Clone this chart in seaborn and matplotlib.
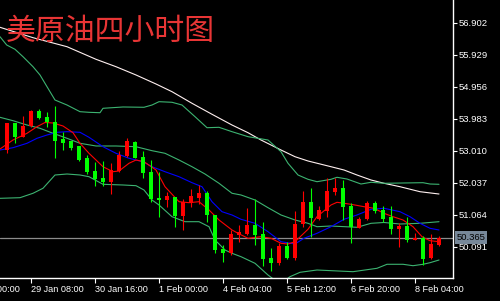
import matplotlib
matplotlib.use("Agg")
import matplotlib.pyplot as plt
import seaborn as sns
import pandas as pd

sns.set_theme(style="dark")
plt.rcParams['font.family'] = ['Liberation Sans', 'DejaVu Sans']

# ---------------- data ----------------
title = "美原油四小时图"

opens = [53.03, 53.85, 53.43, 53.76, 54.22, 54.03, 53.88, 53.36, 53.29, 53.14,
         52.78, 52.40, 52.19, 52.06, 52.39, 52.85, 53.27, 52.83, 52.37, 51.58,
         51.51, 51.61, 51.02, 51.43, 51.58, 51.71, 51.05, 50.03, 49.90, 50.46,
         50.48, 50.75, 50.48, 49.76, 49.58, 50.11, 49.74, 50.79, 51.46, 50.93,
         51.18, 51.76, 51.88, 51.34, 50.67, 50.93, 51.43, 51.21, 51.00, 50.63,
         50.72, 50.30, 50.35, 49.76, 50.14]
highs = [53.85, 53.85, 54.07, 54.25, 54.28, 54.19, 54.37, 53.59, 53.30, 53.16,
         52.88, 52.68, 52.71, 52.64, 53.00, 53.39, 53.30, 53.00, 52.73, 52.36,
         51.76, 51.61, 51.53, 51.86, 51.97, 51.78, 51.05, 50.14, 50.60, 50.75,
         51.27, 51.54, 50.83, 50.05, 50.19, 50.24, 51.19, 51.79, 51.88, 51.34,
         52.17, 52.19, 52.12, 51.41, 51.00, 51.48, 51.47, 51.34, 51.33, 50.80,
         51.00, 50.50, 50.42, 50.48, 50.41]
lows = [52.94, 53.24, 53.43, 53.73, 53.96, 53.73, 52.79, 53.03, 53.03, 52.71,
        52.30, 51.95, 51.95, 51.68, 52.37, 52.83, 52.79, 52.17, 51.45, 51.00,
        51.31, 50.69, 50.59, 51.31, 51.39, 50.83, 49.90, 49.64, 49.84, 50.23,
        50.45, 50.14, 49.49, 49.34, 49.53, 49.71, 49.69, 50.69, 50.40, 50.90,
        51.00, 51.66, 50.90, 50.21, 50.65, 50.90, 51.12, 50.84, 50.49, 50.09,
        50.24, 50.30, 49.54, 49.71, 50.11]
closes = [53.84, 53.43, 53.76, 54.22, 54.00, 53.88, 53.31, 53.23, 53.09, 52.73,
          52.37, 52.14, 52.06, 52.42, 52.88, 53.31, 52.80, 52.34, 51.54, 51.51,
          51.64, 51.02, 51.46, 51.63, 51.73, 51.04, 49.99, 49.89, 50.48, 50.53,
          50.75, 50.45, 49.72, 49.58, 50.11, 49.76, 50.79, 51.46, 50.95, 51.21,
          51.78, 51.88, 51.31, 50.70, 50.93, 51.43, 51.19, 50.93, 50.63, 50.72,
          50.30, 50.37, 49.72, 50.17, 50.365]

last_price = 50.365

x_tick_pos = [-5, 3, 11, 19, 27, 35, 43, 51]
x_tick_labels = ["28 Jan 00:00", "29 Jan 08:00", "30 Jan 16:00", "1 Feb 00:00",
                 "4 Feb 04:00", "5 Feb 12:00", "6 Feb 20:00", "8 Feb 04:00"]
y_ticks = [56.902, 55.929, 54.956, 53.983, 53.010, 52.037, 51.064, 50.091]

# long moving average (white)
ma_long_x = [-0.875, 3.25, 7.5, 11.125, 13.625, 16.125, 18.625, 20.625, 23.125,
             25.625, 28.125, 30.125, 31.75, 34.25, 36, 37.625, 40.5, 42.125,
             43.75, 45.5, 47.125, 49.125, 51.625, 54]
ma_long = [56.762, 56.446, 56.172, 55.789, 55.564, 55.312, 55.038, 54.804, 54.451,
           54.117, 53.791, 53.557, 53.335, 53.031, 52.827, 52.697, 52.523, 52.423,
           52.271, 52.119, 52.019, 51.915, 51.763, 51.693]

# Bollinger upper band (green)
bb_up_x = [-0.875, -0.04, 1, 2, 3.25, 4.125, 5, 6, 7.5, 9.125, 10.25, 11.625, 12,
           14.5, 17.125, 18.125, 19, 20.625, 21.875, 23.5, 25, 26.5, 28.125,
           30.125, 32.625, 34.25, 35.125, 36.375, 37.625, 38.75, 40.5, 41.25,
           42.5, 44.25, 45.5, 47.125, 52, 52.875, 54]
bb_up = [56.476, 56.224, 56.093, 55.868, 55.564, 55.312, 54.956, 54.551, 54.399,
         54.196, 54.177, 54.165, 54.299, 54.339, 54.330, 54.399, 54.500, 54.482,
         54.399, 54.044, 53.709, 53.721, 53.588, 53.436, 53.335, 52.979, 52.627,
         52.271, 52.140, 52.067, 52.140, 52.201, 52.149, 51.997, 52.049, 52.019,
         52.037, 51.997, 51.988]

# Bollinger middle band (green)
bb_mid_x = [-0.875, 0.75, 2.5, 4.125, 5.75, 7.5, 9.125, 11.125, 13.625, 16.125,
            18.125, 19.75, 21.5, 23.125, 24.75, 26.5, 28.125, 29.25, 31, 32.625,
            34.25, 36, 37.625, 38.75, 40.5, 43.75, 45.5, 47.125, 49.125, 51.625, 54]
bb_mid = [54.025, 53.922, 53.791, 53.691, 53.539, 53.387, 53.235, 53.153, 53.153,
          53.131, 53.010, 52.931, 52.727, 52.523, 52.301, 52.019, 51.715, 51.663,
          51.511, 51.277, 51.055, 50.903, 50.802, 50.699, 50.720, 50.681, 50.802,
          50.827, 50.781, 50.802, 50.851]

# Bollinger lower band (green)
bb_low_x = [-0.875, 1.625, 3.25, 4.5, 6, 7.5, 9.125, 10.25, 12, 14.5, 16.125,
            17.125, 18.125, 19, 20.625, 22.25, 24, 25.25, 26, 27.25, 28.125,
            29.25, 31, 32.625, 34.125, 35.375, 36.625, 38.75, 43.25, 46.25, 47.5,
            49.5, 50.75, 52, 52.875, 54]
bb_low = [51.562, 51.581, 51.715, 51.867, 52.271, 52.301, 52.271, 52.219, 51.988,
          51.967, 51.946, 51.815, 51.511, 51.359, 51.003, 50.851, 50.851, 50.699,
          50.295, 49.991, 49.890, 49.787, 49.586, 49.230, 48.957, 49.179, 49.312,
          49.382, 49.331, 49.434, 49.556, 49.556, 49.513, 49.556, 49.604, 49.686]

# medium moving average (blue)
ma_mid_x = [-0.875, 0.75, 2.5, 3.75, 5, 6.25, 7.5, 9.125, 10.25, 12, 13.625,
            15.25, 17, 18.125, 19.75, 21.5, 23.125, 24.375, 25.625, 26.875,
            28.125, 29.25, 31, 32.625, 34.25, 36, 37.125, 38.75, 40.5, 42.125,
            43.75, 45.5, 47.125, 49.125, 50.375, 51.625, 52.875, 54]
ma_mid = [53.031, 53.101, 53.235, 53.387, 53.487, 53.569, 53.588, 53.569, 53.417,
          53.131, 52.931, 52.779, 52.675, 52.523, 52.371, 52.219, 52.037, 51.915,
          51.459, 51.155, 51.055, 50.924, 50.802, 50.547, 50.243, 50.173, 50.346,
          50.498, 50.699, 50.924, 51.055, 51.228, 51.259, 51.155, 51.003, 50.802,
          50.650, 50.599]

# fast moving average (red)
ma_fast_x = [-0.875, 0.75, 2.5, 3.75, 4.75, 5.75, 7, 8.25, 9.125, 10.25, 12,
             13.25, 14, 15.25, 16.125, 17.125, 18.625, 19.75, 21.5, 22.75, 24,
             25.25, 26.5, 28.125, 28.875, 30.125, 31.75, 33, 34.25, 35.125, 36,
             37.625, 38.75, 40.5, 41.25, 43, 44.625, 45.875, 47.125, 48.25, 49.5,
             50.75, 51.875, 52.875, 54]
ma_fast = [53.062, 53.335, 53.539, 53.740, 53.867, 53.852, 53.761, 53.557, 53.235,
           52.931, 52.523, 52.371, 52.393, 52.627, 52.727, 52.675, 52.423, 51.915,
           51.459, 51.429, 51.459, 51.207, 50.903, 50.599, 50.498, 50.346, 50.395,
           50.346, 50.194, 50.173, 50.243, 50.620, 51.003, 51.359, 51.441, 51.380,
           51.307, 51.259, 51.106, 51.003, 50.903, 50.699, 50.395, 50.273, 50.243]

# ---------------- figure ----------------
W, H = 500, 301
fig = plt.figure(figsize=(W / 100, H / 100), dpi=100, facecolor='black')
ax = fig.add_axes([0, 23 / H, 453 / W, 278 / H])
ax.set_facecolor('black')
ax.grid(False)

df = pd.DataFrame({"open": opens, "high": highs, "low": lows, "close": closes})
df["idx"] = range(len(df))
up = df["close"] >= df["open"]
col = ['#ff0000' if u else '#00ff00' for u in up]

# candle wicks and bodies
ax.vlines(df["idx"], df["low"], df["high"], colors=col, linewidth=0.8, zorder=3)
body_bottom = df[["open", "close"]].min(axis=1)
body_h = (df["close"] - df["open"]).abs().clip(lower=0.035)
ax.bar(df["idx"], body_h, bottom=body_bottom, width=0.62, color=col,
       linewidth=0, zorder=4)

# current price line
ax.axhline(last_price, color='#8c8c8c', linewidth=0.9, zorder=1)

# indicator lines
lines = [
    (ma_long_x, ma_long, '#fff0f0'),
    (bb_up_x, bb_up, '#3cb371'),
    (bb_mid_x, bb_mid, '#3cb371'),
    (bb_low_x, bb_low, '#3cb371'),
    (ma_mid_x, ma_mid, '#0000ff'),
    (ma_fast_x, ma_fast, '#ff0000'),
]
for xs, ys, c in lines:
    sns.lineplot(x=xs, y=ys, ax=ax, color=c, linewidth=0.8, estimator=None,
                 sort=False, legend=False, zorder=2)

ax.set_xlabel("")
ax.set_ylabel("")

# spines
for s in ['left', 'top']:
    ax.spines[s].set_visible(False)
for s in ['right', 'bottom']:
    ax.spines[s].set_visible(True)
    ax.spines[s].set_color('white')
    ax.spines[s].set_linewidth(1.0)

# ticks
ax.yaxis.tick_right()
ax.set_yticks(y_ticks)
ax.set_yticklabels([f"{v:.3f}" for v in y_ticks])
ax.tick_params(axis='y', colors='white', length=3, width=0.8, labelsize=6.8,
               pad=1.2, direction='out', right=True, left=False)
ax.set_xticks(x_tick_pos)
ax.set_xticklabels(x_tick_labels)
ax.tick_params(axis='x', colors='white', length=3.5, width=0.8, labelsize=6.6,
               pad=1.5, direction='out', bottom=True)
for lab in ax.get_xticklabels():
    lab.set_horizontalalignment('left')

# axes limits (after ticks so they are not expanded)
ax.set_xlim(-0.875, 55.75)
ax.set_ylim(49.139, 57.592)

# first date label, whose tick lies left of the visible area
ax.annotate(x_tick_labels[0], xy=(x_tick_pos[0], 0),
            xycoords=ax.get_xaxis_transform(), xytext=(0, -5.0),
            textcoords='offset points', ha='left', va='top', fontsize=6.6,
            color='white', annotation_clip=False)

# current price tag
ax.annotate(f"{last_price:.3f}", xy=(1, last_price),
            xycoords=ax.get_yaxis_transform(), xytext=(2.6, 0),
            textcoords='offset points', ha='left', va='center', fontsize=6.8,
            color='black', annotation_clip=False,
            bbox=dict(boxstyle='square,pad=0.2', fc='#778899', ec='none'))

# title
fig.text(6 / W, 1 - 40 / H, title, color='#e83535', fontsize=21.5,
         family=['Noto Sans CJK SC', 'DejaVu Sans'], ha='left', va='baseline')

fig.savefig("out.png", dpi=100, facecolor='black')
